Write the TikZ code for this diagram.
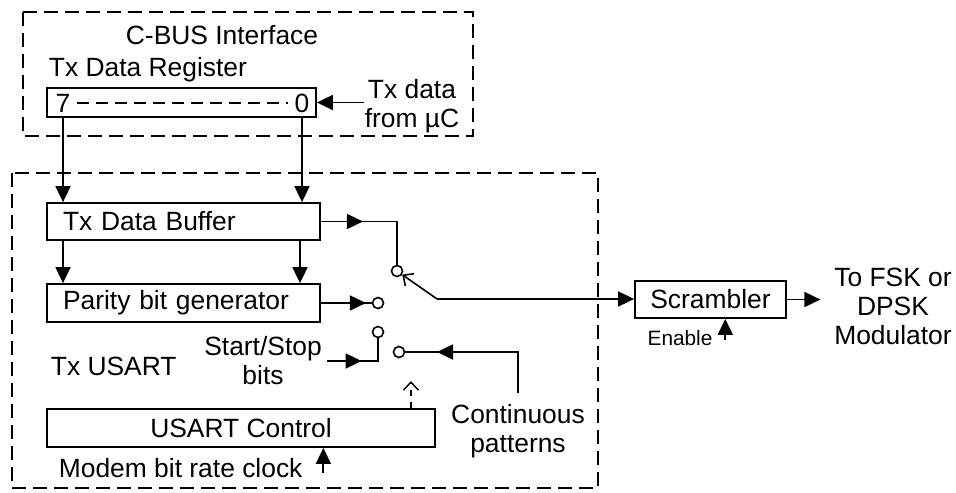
\documentclass[tikz,border=0pt]{standalone}
\usepackage{fontspec}
\setmainfont{Liberation Sans}
\usetikzlibrary{arrows.meta, decorations.markings}

\begin{document}
\begin{tikzpicture}[x=0.5pt, y=-0.5pt, line width=0.9pt,
    font=\fontsize{13.2}{14.5}\selectfont,
    >={Triangle[length=8pt, width=7.5pt]},
    frame/.style={dash pattern=on 7pt off 3.5pt},
    lbl/.style={inner sep=0pt, align=center},
    box/.style={draw, inner sep=0pt},
    lbox/.style={draw, minimum height=#1, text width=120.5pt, align=left, inner xsep=8pt, inner ysep=0pt},
    sw/.style={draw, circle, minimum size=5.5pt, inner sep=0pt, line width=0.8pt},
    flow/.style={postaction={decorate}, decoration={markings, mark=at position #1 with {\arrow{>}}}},
    open/.style={-{Straight Barb[length=4pt, width=7.5pt]}}]

    \useasboundingbox (0,0) rectangle (956,492);

    % dashed groups
    \draw[frame] (23,12) rectangle (473,136);
    \draw[frame] (12,173) rectangle (598,488);

    % C-BUS side
    \node[lbl] (cbus) at (222,35) {C-BUS Interface};
    \node[lbl, anchor=west] (regname) at (48,70) {Tx Data Register};
    \node[box, minimum width=134.5pt, minimum height=14.5pt] (reg) at (181.5,102.5) {};
    \node[lbl] (seven) at (63,103) {7};
    \node[lbl] (zero) at (302,103) {0};
    \draw[dash pattern=on 6pt off 3.5pt, line width=0.7pt, shorten <=3pt, shorten >=3pt] (seven.east) -- (zero.west);
    \node[lbl] (txdata) at (412,106) {Tx data\\from µC};
    \draw[->] (txdata.west |- reg.east) -- (reg.east);

    % Tx USART blocks
    \node[lbox=18.5pt] (buf) at (183.5,221.5) {Tx Data Buffer};
    \node[lbox=19pt] (par) at (183.5,303) {Parity bit generator};
    \node[box, minimum width=194pt, minimum height=19pt] (usart) at (241,428) {USART Control};
    \node[lbl, anchor=west] (txusart) at (50,366) {Tx USART};
    \node[lbl] (ss) at (263,361) {Start/Stop\\bits};
    \node[lbl] (cont) at (518,431) {Continuous\\patterns};
    \node[lbl, anchor=west] (clk) at (58,468) {Modem bit rate clock};

    \draw[->] (seven |- reg.south) -- (seven |- buf.north);
    \draw[->] (zero |- reg.south) -- (zero |- buf.north);
    \draw[->] (seven |- buf.south) -- (seven |- par.north);
    \draw[->] ([xshift=-1pt]zero |- buf.south) -- ([xshift=-1pt]zero |- par.north);

    % switch contacts
    \node[sw] (c1) at (397,271) {};
    \node[sw] (c2) at (378,303) {};
    \node[sw] (c3) at (378,332) {};
    \node[sw] (c4) at (399,352) {};
    \coordinate (pivot) at (437,299);
    \coordinate (contin) at (518,393);

    \draw[flow=21pt] (buf.east) -| (c1.north);
    \draw[flow=22.5pt] (par.east) -- (c2.west);
    \draw[flow=17.5pt] ([xshift=2pt]ss.east) -| (c3.south);
    \draw[flow=61pt] (contin) |- (c4.east);
    \draw[open, line width=0.8pt] (pivot) -- (c1);
    \draw[dashed, open, line width=0.7pt] ([xshift=-12.5pt]usart.north east) -- ++(0,-27);
    \draw[->] ([xshift=10pt, yshift=-2.5pt]clk.east) -- ([xshift=10pt]clk.east |- usart.south);

    % scrambler
    \node[box, minimum width=75.5pt, minimum height=18.5pt] (scr) at (710.5,299.5) {Scrambler};
    \node[lbl, font=\fontsize{10.4}{12}\selectfont] (enable) at (680,338) {Enable};
    \node[lbl] (fsk) at (893,306) {To FSK or\\DPSK\\Modulator};

    \draw[->] (pivot) -- (pivot -| scr.west);
    \draw[->] (scr.east) -- ([xshift=-6.5pt]fsk.west |- scr.east);
    \draw[->] ([xshift=6pt, yshift=-1pt]enable.east) -- ([xshift=6pt]enable.east |- scr.south);
\end{tikzpicture}
\end{document}
